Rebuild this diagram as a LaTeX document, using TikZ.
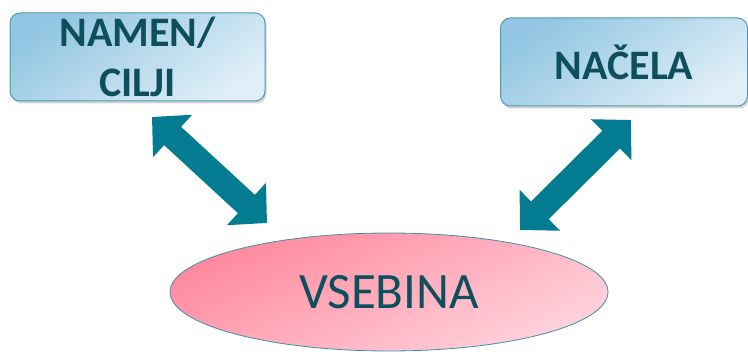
\documentclass[tikz,border=0pt]{standalone}
\usepackage{fontspec}
\setmainfont{Carlito}
\usetikzlibrary{arrows.meta,shapes.geometric,shadows}
\definecolor{txt}{HTML}{0E4F5E}
\definecolor{arr}{HTML}{037C91}
\definecolor{boxA}{HTML}{92C6E2}
\definecolor{boxB}{HTML}{DFEEF7}
\definecolor{boxE}{HTML}{4C9BB6}
\definecolor{pinkA}{HTML}{FF889E}
\definecolor{pinkB}{HTML}{FFD3DC}
\definecolor{ellE}{HTML}{3F8FAA}
\tikzset{
  box/.style={draw=boxE, line width=1pt, rounded corners=10pt, top color=boxA, bottom color=boxB, shading angle=35,
    drop shadow={opacity=0.35, shadow xshift=1.5pt, shadow yshift=-2.5pt},
    text=txt, font=\fontsize{42}{50}\selectfont\bfseries, align=center, inner sep=0pt},
  blob/.style={ellipse, draw=ellE, line width=0.8pt, top color=pinkA, bottom color=pinkB, shading angle=25,
    text=txt, font=\fontsize{51}{55}\selectfont, inner sep=0pt},
  dbl/.style={arr, line width=25pt, {Triangle[width=56pt,length=28pt]}-{Triangle[width=56pt,length=28pt]}}
}
\begin{document}
\begin{tikzpicture}[x=1pt,y=-1pt]
\useasboundingbox (0,0) rectangle (748,352);
\node[box, minimum width=255pt, minimum height=88pt] (namen) at (137.5,57) {NAMEN/\\CILJI};
\node[box, minimum width=247pt, minimum height=88pt] (nacela) at (624,62) {NAČELA};
\node[blob, minimum width=438pt, minimum height=118pt] (vsebina) at (389,292) {VSEBINA};
\coordinate (l1) at (152,117);
\coordinate (l2) at (267,223);
\coordinate (r1) at (631,120);
\coordinate (r2) at (520,230);
\draw[dbl] (l1) -- (l2);
\draw[dbl] (r1) -- (r2);
\end{tikzpicture}
\end{document}
